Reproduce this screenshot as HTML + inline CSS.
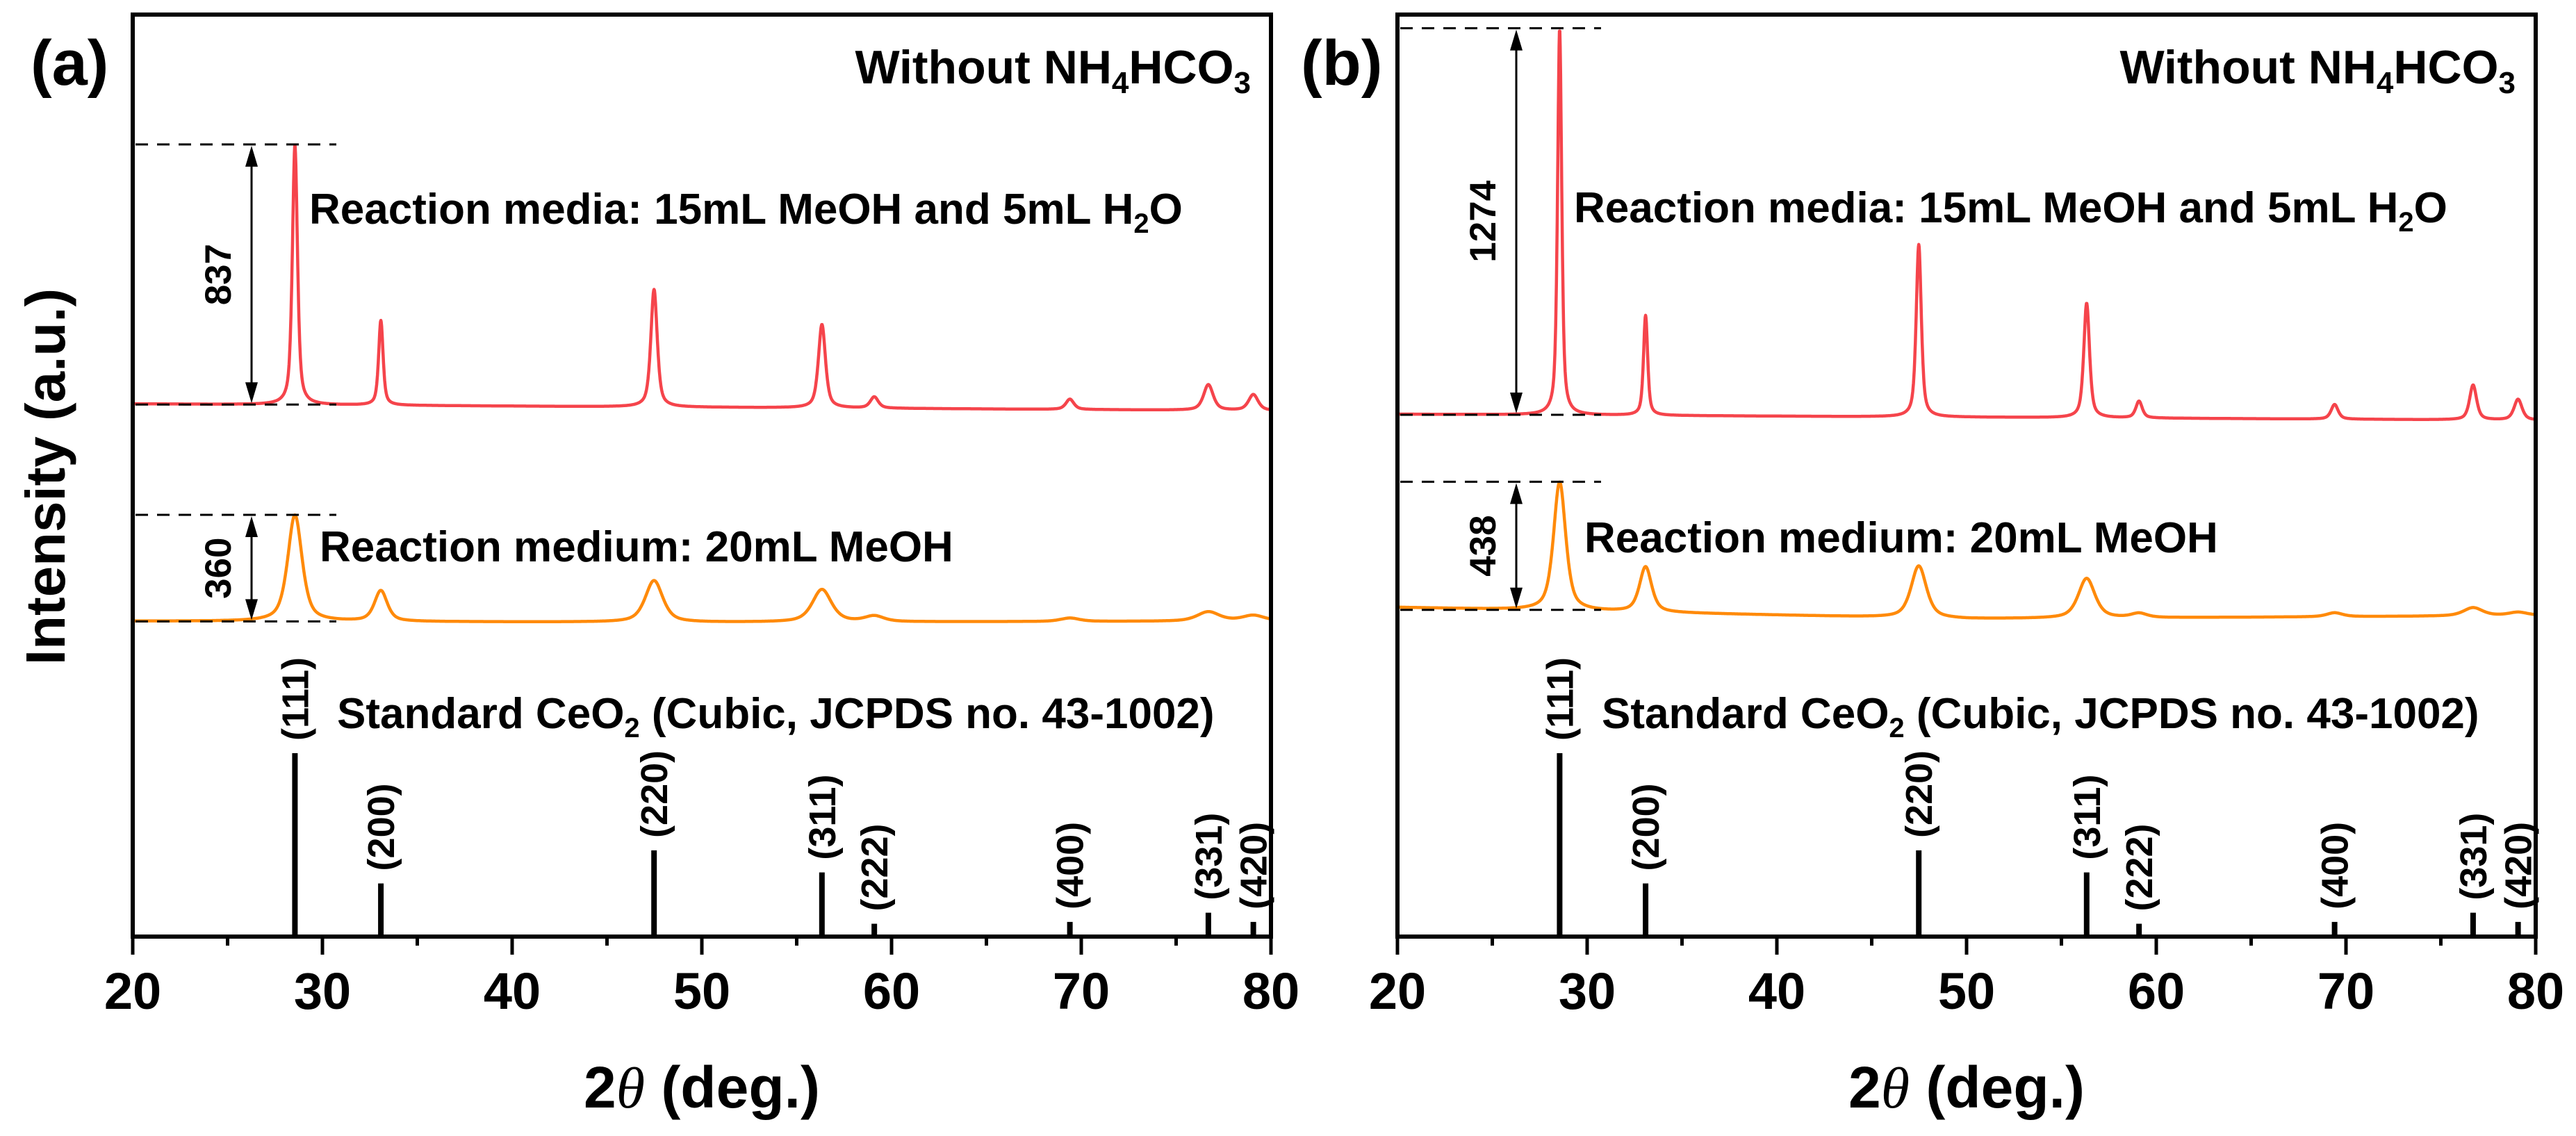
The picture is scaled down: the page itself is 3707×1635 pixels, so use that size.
<!DOCTYPE html>
<html><head><meta charset="utf-8"><style>
html,body{margin:0;padding:0;background:#fff;}
svg{display:block;font-family:"Liberation Sans",Arial,sans-serif;}
</style></head><body>
<svg id="fig" width="3707" height="1635" viewBox="0 0 3707 1635" xmlns="http://www.w3.org/2000/svg">
<rect x="0" y="0" width="3707" height="1635" fill="#fff"/>
<text transform="translate(93,686) rotate(-90)" text-anchor="middle" font-size="80" font-weight="bold">Intensity (a.u.)</text>
</svg>
<script>
// ---- data ----
const peakPos = [28.55, 33.08, 47.48, 56.33, 59.09, 69.40, 76.70, 79.07];
const hklLabels = ["(111)","(200)","(220)","(311)","(222)","(400)","(331)","(420)"];
const stdIntensity = [100, 29, 47, 35, 7, 8, 13, 8];
const xTicks = [20, 30, 40, 50, 60, 70, 80];
const xMinorTicks = [25, 35, 45, 55, 65, 75];
// panel a
const redA_heights = [830, 271, 376, 267, 36, 33, 82, 51];
const redA_hwhm = [0.16, 0.14, 0.2, 0.22, 0.25, 0.25, 0.3, 0.3];
const redA_bg = [1704, 1693, 1682];
const orgA_heights = [340, 98, 133, 104, 18, 11, 30, 18];
const orgA_hwhm = [0.45, 0.4, 0.55, 0.6, 0.6, 0.6, 0.7, 0.7];
const orgA_bg = [1009, 1005, 1009];
// panel b
const redB_heights = [1262, 327, 564, 375, 55, 48, 114, 68];
const redB_hwhm = [0.13, 0.13, 0.16, 0.18, 0.2, 0.22, 0.22, 0.25];
const redB_bg = [1709, 1699, 1689];
const orgB_heights = [420, 148, 170, 130, 14, 13, 27, 11];
const orgB_hwhm = [0.38, 0.38, 0.48, 0.52, 0.5, 0.5, 0.6, 0.6];
const orgB_bg = [1077, 1039, 1050];
const labelA = ["837", "360"];
const labelB = ["1274", "438"];

const NS = "http://www.w3.org/2000/svg";
const svg = document.getElementById('fig');
function mk(tag, attrs, parent){
  const e = document.createElementNS(NS, tag);
  for (const k in attrs) e.setAttribute(k, attrs[k]);
  (parent||svg).appendChild(e);
  return e;
}
const Y0 = 1348, Y1 = 21;

function bgAt(bg, x){ // baseline knots at 20, 50, 80
  if (x <= 50) return bg[0] + (bg[1]-bg[0])*(x-20)/30;
  return bg[1] + (bg[2]-bg[1])*(x-50)/30;
}
function intensity(x, heights, hwhm, bg){
  let v = bgAt(bg, x);
  for (let i=0;i<peakPos.length;i++){
    const d = (x-peakPos[i])/hwhm[i];
    v += heights[i]*(0.6/(1+d*d) + 0.4*Math.exp(-0.693*d*d));
  }
  return v;
}

function panel(cfg){
  const g = mk('g', {});
  
  
  const L = cfg.left, R = cfg.left + 1638;
  const xs = v => L + (v-20)*(R-L)/60;
  const ys = v => Y0 - v*cfg.k;
  const stickY = v => Y0 - v*2.64;

  // traces
  function trace(h, w, bg, color, nm){
    let d = '';
    for (let i=0;i<=3000;i++){
      const x = 20 + i*0.02;
      d += (i?'L':'M') + xs(x).toFixed(1) + ' ' + ys(intensity(x,h,w,bg)).toFixed(1);
    }
    const p = mk('path', {d:d, fill:'none', stroke:color, 'stroke-width':4.5, 'stroke-linejoin':'round'}, g);
    
    
  }
  trace(cfg.redH, cfg.redW, cfg.redBg, '#f5444b', 'red-trace-15ml-meoh-5ml-h2o');
  trace(cfg.orgH, cfg.orgW, cfg.orgBg, '#ff8a0a', 'orange-trace-20ml-meoh');

  // standard sticks and hkl labels
  for (let i=0;i<peakPos.length;i++){
    const x = xs(peakPos[i]), top = stickY(stdIntensity[i]);
    const s = mk('line', {x1:x, x2:x, y1:Y0, y2:top, stroke:'#000', 'stroke-width':8}, g);
    
    
    const t = mk('text', {transform:`translate(${x+19},${top-18}) rotate(-90)`, 'font-size':54, 'font-weight':'bold'}, g);
    t.textContent = hklLabels[i];
    
    
  }

  // annotation: dashed lines and arrows
  function annot(h, bg, label, nm, lblY){
    const base = ys(bgAt(bg, 26.5));
    const top = ys(bgAt(bg, peakPos[0]) + h[0] + h[1]*0.01) ;
    const topY = Math.min(top, ys(intensity(peakPos[0], h, nm==='red'?cfg.redW:cfg.orgW, bg)));
    const xe = L + 293;
    for (const yy of [topY, base]){
      const dl = mk('line', {x1:L+4, x2:xe, y1:yy, y2:yy, stroke:'#000', 'stroke-width':3, 'stroke-dasharray':'18 13'}, g);
      
      
    }
    const ax = L + 171;
    const ar = mk('line', {x1:ax, x2:ax, y1:topY+28, y2:base-28, stroke:'#000', 'stroke-width':3}, g);
    
    
    mk('polygon', {points:`${ax},${topY+2} ${ax-9},${topY+32} ${ax+9},${topY+32}`, fill:'#000'}, g);
    mk('polygon', {points:`${ax},${base-2} ${ax-9},${base-32} ${ax+9},${base-32}`, fill:'#000'}, g);
    const t = mk('text', {transform:`translate(${L+141},${(topY+base)/2}) rotate(-90)`, 'text-anchor':'middle', 'font-size':53, 'font-weight':'bold'}, g);
    t.textContent = label;
    
    
  }
  annot(cfg.redH, cfg.redBg, cfg.labels[0], 'red');
  annot(cfg.orgH, cfg.orgBg, cfg.labels[1], 'orange');

  // frame
  const fr = mk('rect', {x:L, y:Y1, width:R-L, height:Y0-Y1, fill:'none', stroke:'#000', 'stroke-width':6}, g);
  
  
  for (const v of xTicks){
    const x = xs(v);
    const tk = mk('line', {x1:x, x2:x, y1:Y0, y2:Y0+26, stroke:'#000', 'stroke-width':5}, g);
    
    
    const tl = mk('text', {x:x, y:1452, 'text-anchor':'middle', 'font-size':74, 'font-weight':'bold'}, g);
    tl.textContent = v;
    
    
  }
  for (const v of xMinorTicks){
    const x = xs(v);
    const tk = mk('line', {x1:x, x2:x, y1:Y0, y2:Y0+13, stroke:'#000', 'stroke-width':5}, g);
    
    
  }
  // x title
  const xt = mk('text', {x:(L+R)/2, y:1594, 'text-anchor':'middle', 'font-size':84, 'font-weight':'bold'}, g);
  xt.innerHTML = '2<tspan font-family="Liberation Serif" font-style="italic" font-weight="normal">θ</tspan> (deg.)';
  
  

  // texts
  const pl = mk('text', {x:cfg.tagX, y:122, 'font-size':92, 'font-weight':'bold'}, g);
  pl.textContent = cfg.tag;
  
  
  const w = mk('text', {x:R-29, y:120, 'text-anchor':'end', 'font-size':68, 'font-weight':'bold'}, g);
  w.innerHTML = 'Without NH<tspan font-size="44" dy="14">4</tspan><tspan dy="-14">HCO</tspan><tspan font-size="44" dy="14">3</tspan>';
  
  
  const r = mk('text', {x:L+254, y:cfg.redLblY, 'font-size':62, 'font-weight':'bold'}, g);
  r.innerHTML = 'Reaction media: 15mL MeOH and 5mL H<tspan font-size="40" dy="13">2</tspan><tspan dy="-13">O</tspan>';
  
  
  const o = mk('text', {x:L+269, y:cfg.orgLblY, 'font-size':62, 'font-weight':'bold'}, g);
  o.textContent = 'Reaction medium: 20mL MeOH';
  
  
  const s = mk('text', {x:L+294, y:1048, 'font-size':62, 'font-weight':'bold'}, g);
  s.innerHTML = 'Standard CeO<tspan font-size="40" dy="13">2</tspan><tspan dy="-13"> (Cubic, JCPDS no. 43-1002)</tspan>';
  
  
}

panel({name:'panel-a', left:191, k:0.45, tag:'(a)', tagX:44,
  redH:redA_heights, redW:redA_hwhm, redBg:redA_bg,
  orgH:orgA_heights, orgW:orgA_hwhm, orgBg:orgA_bg,
  labels:labelA, redLblY:322, orgLblY:808});
panel({name:'panel-b', left:2011, k:0.44, tag:'(b)', tagX:1872,
  redH:redB_heights, redW:redB_hwhm, redBg:redB_bg,
  orgH:orgB_heights, orgW:orgB_hwhm, orgBg:orgB_bg,
  labels:labelB, redLblY:320, orgLblY:795});
</script>
</body></html>
